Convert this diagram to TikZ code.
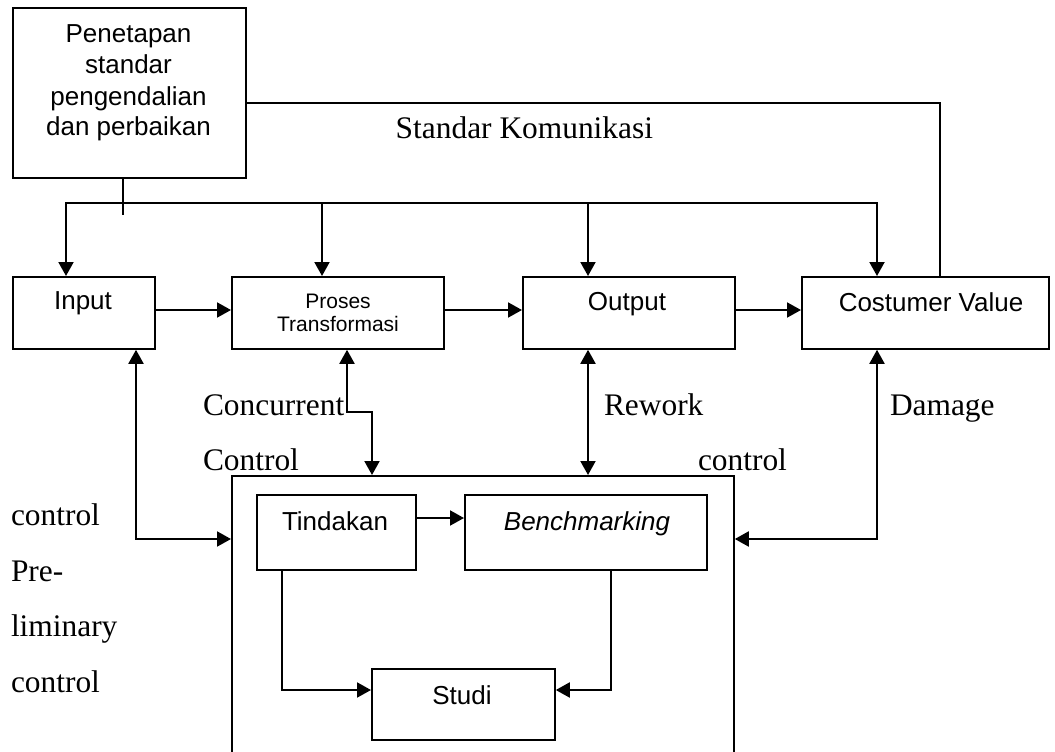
\documentclass[tikz,border=0pt]{standalone}
\usepackage{fontspec}
\setmainfont{Liberation Serif}
\newfontfamily\arialfont{Liberation Sans}
\usetikzlibrary{arrows.meta}
\begin{document}
\begin{tikzpicture}[x=1pt,y=-1pt,line width=2pt,
  box/.style={draw,line width=1.8pt,inner sep=0pt,anchor=north west},
  arr/.style={-{Triangle[length=14pt,width=15pt]}},
  darr/.style={{Triangle[length=14pt,width=15pt]}-{Triangle[length=14pt,width=15pt]}},
  sans/.style={font=\arialfont\fontsize{26}{30}\selectfont,inner sep=0pt,anchor=base},
  small/.style={font=\arialfont\fontsize{21}{25}\selectfont,inner sep=0pt,anchor=base},
  serif/.style={font=\fontsize{31.4}{36}\selectfont,inner sep=0pt,anchor=base west}]
\clip (0,0) rectangle (1055,752);
% boxes
\node[box,minimum width=233pt,minimum height=170pt] (pen) at (12,7) {};
\node[box,minimum width=142pt,minimum height=72pt] (input) at (12,276) {};
\node[box,minimum width=212pt,minimum height=72pt] (proses) at (231,276) {};
\node[box,minimum width=212pt,minimum height=72pt] (output) at (522,276) {};
\node[box,minimum width=247pt,minimum height=72pt] (cv) at (801,276) {};
\node[box,minimum width=502pt,minimum height=300pt] (big) at (231,475) {};
\node[box,minimum width=159pt,minimum height=75pt] (tind) at (256,494) {};
\node[box,minimum width=242pt,minimum height=75pt] (bench) at (464,494) {};
\node[box,minimum width=183pt,minimum height=71pt] (studi) at (371,668) {};
% box texts
\node[sans] (pen1) at (128.5,43) {Penetapan};
\node[sans] (pen2) at (128.5,74) {standar};
\node[sans] (pen3) at (128.5,105) {pengendalian};
\node[sans] (pen4) at (128.5,135) {dan perbaikan};
\node[sans] (tinput) at (83,309) {Input};
\node[small] (tpro1) at (338,308) {Proses};
\node[small] (tpro2) at (338,331) {Transformasi};
\node[sans] (toutput) at (627,310) {Output};
\node[sans] (tcv) at (931,311) {Costumer Value};
\node[sans] (ttind) at (335,530) {Tindakan};
\node[sans] (tbench) at (587,530) {\itshape Benchmarking};
\node[sans] (tstudi) at (462,704) {Studi};
% labels
\node[serif,anchor=base east] (lstd) at (654,138) {Standar Komunikasi};
\node[serif] (lconc) at (202,415) {Concurrent};
\node[serif] (lcont) at (202,470) {Control};
\node[serif] (lrew) at (603,415) {Rework};
\node[serif] (ldam) at (889,415) {Damage};
\node[serif] (lctl) at (697,470) {control};
\node[serif] (lp1) at (10,525) {control};
\node[serif] (lp2) at (10,581) {Pre-};
\node[serif] (lp3) at (10,636) {liminary};
\node[serif] (lp4) at (10,692) {control};
% standard line to customer value
\coordinate (s2) at (940,103);
\draw (pen.east |- s2) -- (s2) -- (s2 |- cv.north);
% bus
\coordinate (bl) at (66,203);
\coordinate (bp) at (322,203);
\coordinate (bo) at (588,203);
\coordinate (br) at (877,203);
\draw ([xshift=111pt]pen.south west) -- ++(0,36);
\draw[arr] (br) -- (bl) -- (bl |- input.north);
\draw[arr] (bl) -- (br) -- (br |- cv.north);
\draw[arr] (bp) -- (bp |- proses.north);
\draw[arr] (bo) -- (bo |- output.north);
% main flow
\coordinate (h) at (0,310);
\draw[arr] (input.east |- h) -- (proses.west |- h);
\draw[arr] (proses.east |- h) -- (output.west |- h);
\draw[arr] (output.east |- h) -- (cv.west |- h);
% controls
\coordinate (c1) at (347,412);
\coordinate (c2) at (372,412);
\draw[darr] (c1 |- proses.south) -- (c1) -- (c2) -- (c2 |- big.north);
\coordinate (r1) at (588,400);
\draw[darr] (r1 |- output.south) -- (r1 |- big.north);
\coordinate (p1) at (136,539);
\draw[darr] (p1 |- input.south) -- (p1) -- (p1 -| big.west);
\coordinate (d1) at (877,539);
\draw[darr] (d1 |- cv.south) -- (d1) -- (d1 -| big.east);
% inner flow
\coordinate (t1) at (0,518);
\draw[arr] (tind.east |- t1) -- (bench.west |- t1);
\coordinate (t2) at (282,690);
\draw[arr] (t2 |- tind.south) -- (t2) -- (t2 -| studi.west);
\coordinate (t3) at (611,690);
\draw[arr] (t3 |- bench.south) -- (t3) -- (t3 -| studi.east);
\end{tikzpicture}
\end{document}
